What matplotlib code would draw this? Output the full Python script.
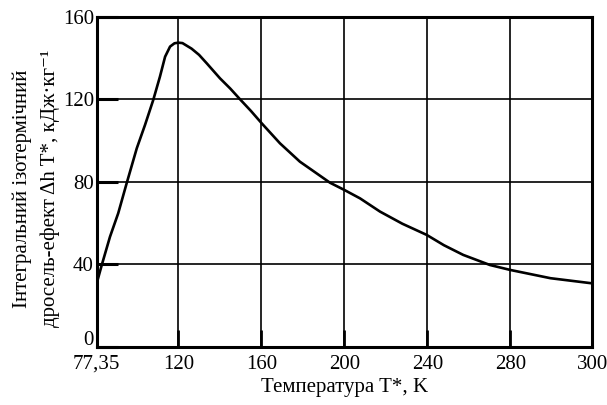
import numpy as np
import matplotlib
matplotlib.use('Agg')
import matplotlib.pyplot as plt
import matplotlib.transforms as mtransforms

# Curve (T in K, dh in kJ/kg)
temp = [77.35, 80, 84.3, 88.6, 93, 98.3, 102.6, 106.9, 110.4, 113.1, 115.7,
        118, 120, 122, 126.4, 130, 133.7, 140.1, 145, 149.7, 155, 160.2,
        169, 178.6, 186, 193.1, 200, 207.6, 217.2, 228, 239.7, 248, 257.3,
        270.2, 280, 289.8, 300]
dh = [30.7, 39.6, 53.3, 64.7, 79.2, 96.2, 107.5, 119.6, 130.9, 140.6, 145.5,
      147.1, 147.4, 147.2, 144.5, 141.5, 137.4, 130.1, 125.2, 120, 114.3, 108.3,
      98.6, 89.7, 84.5, 79.5, 76, 71.9, 65.5, 59.6, 54.2, 49.2, 44.5,
      39.6, 37.2, 33.2, 30.7]

x_ticks = [77.35, 120, 160, 200, 240, 280, 300]
x_labels = ['77,35', '120', '160', '200', '240', '280', '300']
y_ticks = [0, 40, 80, 120, 160]

# the original axis is not linear: first and last segments are drawn at a different scale
brk = [77.35, 120, 280, 300]
pos = [0, 81.6, 413.6, 495.6]
fwd = lambda x: np.interp(x, brk, pos)
inv = lambda p: np.interp(p, pos, brk)

plt.rcParams['font.family'] = ['Liberation Serif', 'DejaVu Serif']

fig = plt.figure(figsize=(6.07, 4.05), dpi=100)
ax = fig.add_axes([0.1593, 0.1440, 0.8165, 0.8148])
ax.set_xscale('function', functions=(fwd, inv))

ax.plot(temp, dh, color='black', lw=1.9, solid_joinstyle='round')

ax.set_xlim(77.35, 300)
ax.set_ylim(0, 160)
ax.set_xticks(x_ticks)
ax.set_xticklabels(x_labels)
ax.set_yticks(y_ticks)
ax.minorticks_off()

for v in x_ticks[1:-1]:
    ax.axvline(v, color='black', lw=1.2, zorder=1)
for v in y_ticks[1:-1]:
    ax.axhline(v, color='black', lw=1.2, zorder=1)

ax.tick_params(axis='x', direction='in', length=12, width=2.0, labelsize=15, pad=6)
ax.tick_params(axis='y', direction='in', length=15, width=2.2, labelsize=15, pad=2)
for s in ax.spines.values():
    s.set_linewidth(2.2)

# "0" sits a little above the corner in the original
lbl0 = ax.get_yticklabels()[0]
lbl0.set_transform(lbl0.get_transform() + mtransforms.ScaledTranslation(0, 6 / 72, fig.dpi_scale_trans))

ax.set_xlabel('Температура T*, K', fontsize=15, labelpad=3)
fig.text(0.036, 0.535, 'Інтегральний ізотермічний', rotation=90,
         ha='center', va='center', fontsize=15)
fig.text(0.083, 0.535, 'дросель-ефект Δh T*, кДж·кг⁻¹', rotation=90,
         ha='center', va='center', fontsize=15)

fig.savefig('out.png', dpi=100)
plt.close(fig)
